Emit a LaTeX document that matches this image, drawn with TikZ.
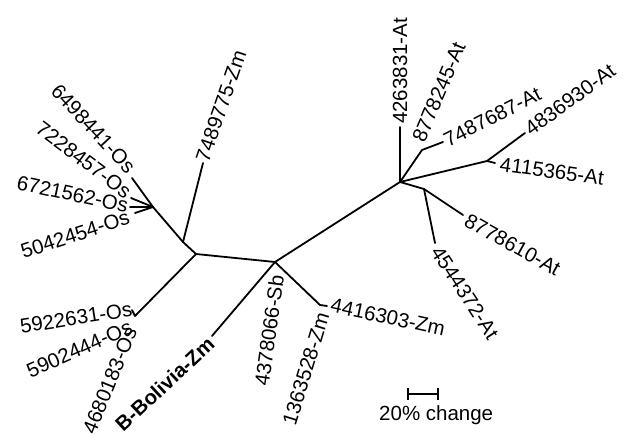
\documentclass[tikz,border=0pt]{standalone}
\usepackage{fontspec}
\setmainfont{Liberation Sans}
\begin{document}
\begin{tikzpicture}[x=1pt,y=-1pt,
  br/.style={line width=1.8pt,line cap=round,line join=round},
  lbl/.style={inner sep=0pt,font=\fontsize{20.5}{24}\selectfont},
  lw/.style={lbl,anchor=west},
  le/.style={lbl,anchor=east}]
\useasboundingbox (0,0) rectangle (631,434);
% internal points
\coordinate (L) at (196,254);
\coordinate (C) at (275,262);
\coordinate (R) at (400,182);
\coordinate (U) at (183,242);
\coordinate (A) at (153,207);
\coordinate (B) at (135,316);
\coordinate (D) at (320,305);
\coordinate (P) at (422,150);
\coordinate (Q) at (487,161);
\coordinate (S) at (424,189);
% leaf ends
\coordinate (e6498) at (132,178);
\coordinate (e7228) at (131,198);
\coordinate (e6721) at (130,207);
\coordinate (e5042) at (135,213);
\coordinate (e7489) at (203,163);
\coordinate (e5922) at (132,310);
\coordinate (eBol) at (212,336);
\coordinate (e4416) at (327,306);
\coordinate (e4263) at (400,127);
\coordinate (e7487) at (443,142);
\coordinate (e4836) at (525,133);
\coordinate (e4115) at (495,163);
\coordinate (e8610) at (463,215);
\coordinate (e4544) at (435,243);
% branches
\draw[br] (L) -- (C) -- (R);
\draw[br] (L) -- (U) -- (A) -- (e6498);
\draw[br] (A) -- (e7228);
\draw[br] (A) -- (e6721);
\draw[br] (A) -- (e5042);
\draw[br] (U) -- (e7489);
\draw[br] (L) -- (B) -- (e5922);
\draw[br] (C) -- (eBol);
\draw[br] (C) -- (D) -- (e4416);
\draw[br] (R) -- (e4263);
\draw[br] (R) -- (P) -- (e7487);
\draw[br] (R) -- (Q) -- (e4836);
\draw[br] (Q) -- (e4115);
\draw[br] (R) -- (S) -- (e8610);
\draw[br] (S) -- (e4544);
% labels
\node[le,rotate=-47] (n6498) at (132,170) {6498441-Os};
\node[le,rotate=-37] (n7228) at (129,194) {7228457-Os};
\node[le,rotate=-12] (n6721) at (128,206) {6721562-Os};
\node[le,rotate=18] (n5042) at (129,217) {5042454-Os};
\node[lw,rotate=71] (n7489) at (202,161) {7489775-Zm};
\node[le,rotate=9] (n5922) at (132,309) {5922631-Os};
\node[le,rotate=24] (n5902) at (131,326) {5902444-Os};
\node[le,rotate=68] (n4680) at (131,328) {4680183-Os};
\node[le,rotate=43,font=\fontsize{20.5}{24}\selectfont\bfseries] (nBol) at (211,341) {B-Bolivia-Zm};
\node[le,rotate=82] (n4378) at (277,275) {4378066-Sb};
\node[le,rotate=73] (n1363) at (323,313) {1363528-Zm};
\node[lw,rotate=-12] (n4416) at (331,305) {4416303-Zm};
\node[lw,rotate=90] (n4263) at (400,124) {4263831-At};
\node[lw,rotate=67] (n8245) at (418,141) {8778245-At};
\node[lw,rotate=27] (n7487) at (445,141) {7487687-At};
\node[lw,rotate=36] (n4836) at (527,131) {4836930-At};
\node[lw,rotate=-8] (n4115) at (500,164) {4115365-At};
\node[lw,rotate=-29] (n8610) at (466,219) {8778610-At};
\node[lw,rotate=-57] (n4544) at (436,248) {4544372-At};
% scale bar
\coordinate (s1) at (408,394);
\coordinate (s2) at (438,394);
\draw[line width=1.8pt] (s1) -- (s2);
\draw[line width=1.5pt] ([yshift=-6]s1) -- ([yshift=6]s1);
\draw[line width=1.5pt] ([yshift=-6]s2) -- ([yshift=6]s2);
\node[lbl,anchor=base west] (scl) at (379,420) {20\% change};
\end{tikzpicture}
\end{document}
